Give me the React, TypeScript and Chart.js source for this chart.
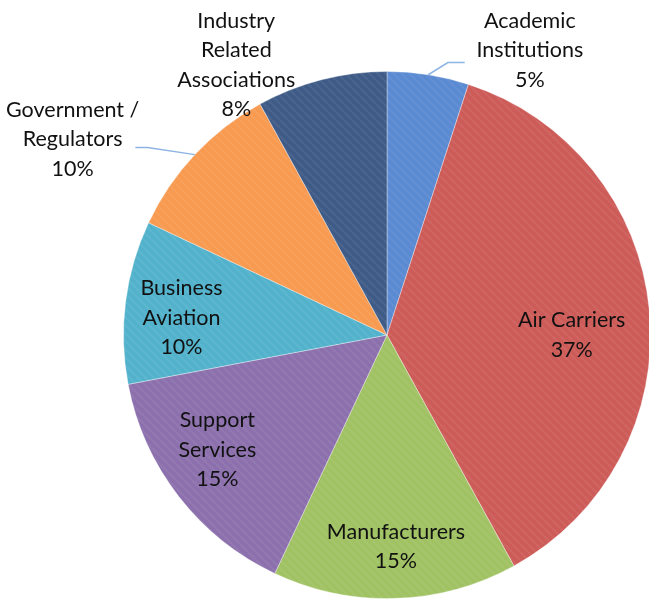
import React, { useEffect, useRef } from "react";
import { Chart, registerables } from "chart.js";

Chart.register(...registerables);

const CATEGORIES: string[][] = [
  ["Academic", "Institutions"],
  ["Air Carriers"],
  ["Manufacturers"],
  ["Support", "Services"],
  ["Business", "Aviation"],
  ["Government /", "Regulators"],
  ["Industry", "Related", "Associations"],
];
const VALUES: number[] = [5, 37, 15, 15, 10, 10, 8];
const PERCENT_LABELS: string[] = ["5%", "37%", "15%", "15%", "10%", "10%", "8%"];

const COLORS = ["#5A8AD2", "#CD5B58", "#A0C263", "#8C70AD", "#52B2CC", "#F89A50", "#3E5B87"];

// label block centres, in units of the pie radius relative to its centre
const LABEL_LAYOUT: { dx: number; dy: number; leader?: [number, number][] }[] = [
  { dx: 0.542, dy: -1.08, leader: [[0.231, -1.034], [0.295, -1.034]] },
  { dx: 0.701, dy: 0 },
  { dx: 0.034, dy: 0.803 },
  { dx: -0.644, dy: 0.436 },
  { dx: -0.78, dy: -0.066 },
  { dx: -1.193, dy: -0.742, leader: [[-0.909, -0.712], [-0.955, -0.712]] },
  { dx: -0.572, dy: -1.025 },
];

function makePattern(color: string): CanvasPattern | string {
  const c = document.createElement("canvas");
  const s = 8;
  c.width = s;
  c.height = s;
  const g = c.getContext("2d");
  if (!g) return color;
  g.fillStyle = color;
  g.fillRect(0, 0, s, s);
  g.strokeStyle = "rgba(255,255,255,0.06)";
  g.lineWidth = 2.5;
  for (let k = -1; k <= 1; k++) {
    g.beginPath();
    g.moveTo(k * s, 0);
    g.lineTo(k * s + s, s);
    g.stroke();
  }
  const p = g.createPattern(c, "repeat");
  return p || color;
}

const labelPlugin = {
  id: "pieLabels",
  afterDatasetsDraw(chart: any) {
    const meta = chart.getDatasetMeta(0);
    const arc = meta.data[0];
    if (!arc) return;
    const cx = arc.x;
    const cy = arc.y;
    const R = arc.outerRadius;
    const ctx = chart.ctx;
    ctx.save();
    meta.data.forEach((a: any, i: number) => {
      const lay = LABEL_LAYOUT[i];
      if (!lay.leader) return;
      const mid = (a.startAngle + a.endAngle) / 2;
      ctx.beginPath();
      ctx.strokeStyle = "#8DB4E2";
      ctx.lineWidth = 1.5;
      ctx.moveTo(cx + Math.cos(mid) * R, cy + Math.sin(mid) * R);
      lay.leader.forEach(([px, py]) => ctx.lineTo(cx + px * R, cy + py * R));
      ctx.stroke();
    });
    ctx.fillStyle = "#111";
    ctx.font = "21.5px Lato, 'Open Sans', sans-serif";
    ctx.textAlign = "center";
    ctx.textBaseline = "middle";
    const lh = 29.5;
    CATEGORIES.forEach((lines, i) => {
      const lay = LABEL_LAYOUT[i];
      const all = [...lines, PERCENT_LABELS[i]];
      const x = cx + lay.dx * R;
      const y0 = cy + lay.dy * R - ((all.length - 1) * lh) / 2;
      all.forEach((t, j) => ctx.fillText(t, x, y0 + j * lh));
    });
    ctx.restore();
  },
};

export default function App() {
  const ref = useRef<HTMLCanvasElement | null>(null);
  useEffect(() => {
    document.body.style.margin = "0";
    if (!ref.current) return;
    const chart = new Chart(ref.current, {
      type: "pie",
      data: {
        labels: CATEGORIES.map((l) => l.join(" ")),
        datasets: [
          {
            data: VALUES,
            backgroundColor: COLORS.map(makePattern) as any,
            borderColor: "rgba(255,255,255,0.35)",
            borderWidth: 1,
            clip: false as any,
          },
        ],
      },
      options: {
        animation: false,
        responsive: true,
        maintainAspectRatio: false,
        layout: { padding: { left: 123, right: 49, top: 71, bottom: 1 } },
        plugins: { legend: { display: false }, tooltip: { enabled: false } },
      },
      plugins: [labelPlugin],
    });
    return () => chart.destroy();
  }, []);
  return (
    <div style={{ position: "absolute", left: 0, top: 0, width: 649, height: 600, overflow: "hidden", background: "#fff" }}>
      <div style={{ position: "relative", width: 700, height: 600 }}>
        <canvas ref={ref} />
      </div>
    </div>
  );
}
